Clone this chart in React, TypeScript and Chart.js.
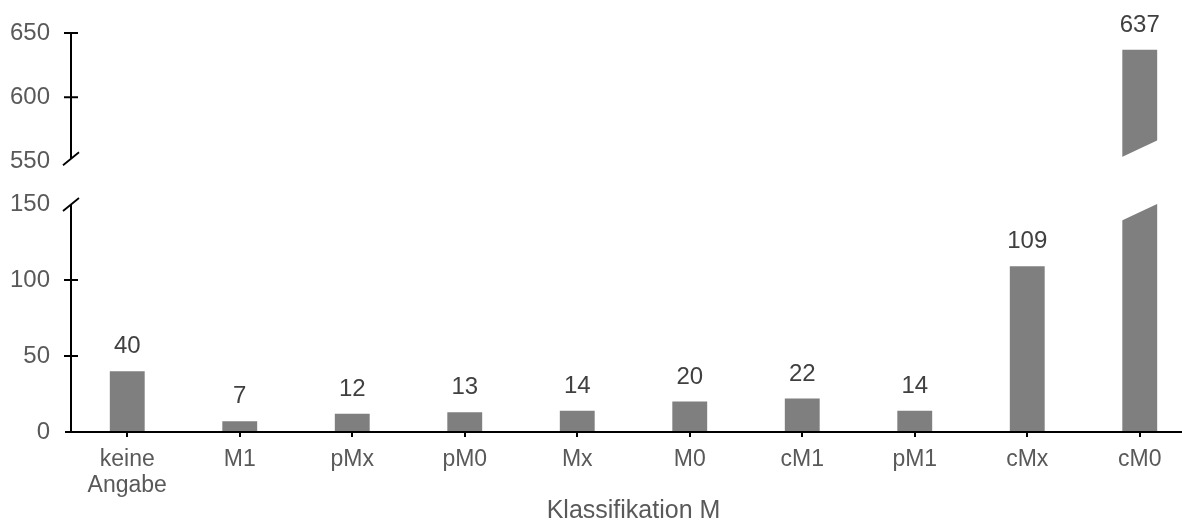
import React, { useEffect, useRef } from 'react';
import { Chart, registerables, LinearScale } from 'chart.js';

Chart.register(...registerables);

// ---- data ----
const categories: (string | string[])[] = [['keine', 'Angabe'], 'M1', 'pMx', 'pM0', 'Mx', 'M0', 'cM1', 'pM1', 'cMx', 'cM0'];
const counts: number[] = [40, 7, 12, 13, 14, 20, 22, 14, 109, 637];
const yTickValues: number[] = [0, 50, 100, 150, 550, 600, 650];
const lowerRange: number[] = [0, 150];
const upperRange: number[] = [550, 650];
const xTitle = 'Klassifikation M';

// ---- styling ----
const FONT = "'Liberation Sans', Arial, Helvetica, sans-serif";
const BAR_COLOR = '#7f7f7f';
const LABEL_COLOR = '#595959';
const VALUE_COLOR = '#404040';
// share of the axis height for the lower section, the gap and the upper section
const F_LOW = 228 / 399;
const F_GAP = 42.7 / 399;
const F_UP = 1 - F_LOW - F_GAP;

class BrokenLinearScale extends LinearScale {
  static id = 'brokenLinear';
  static defaults = {};

  buildTicks() {
    return yTickValues.map((v) => ({ value: v }));
  }

  valueToDecimal(v: number) {
    const [l0, l1] = lowerRange;
    const [u0, u1] = upperRange;
    if (v <= l1) return ((v - l0) / (l1 - l0)) * F_LOW;
    if (v >= u0) return F_LOW + F_GAP + ((v - u0) / (u1 - u0)) * F_UP;
    return F_LOW + ((v - l1) / (u0 - l1)) * F_GAP;
  }

  getPixelForValue(value: number) {
    return (this as any).getPixelForDecimal(this.valueToDecimal(value));
  }

  getValueForPixel(pixel: number) {
    const d = (this as any).getDecimalForPixel(pixel);
    const [l0, l1] = lowerRange;
    const [u0, u1] = upperRange;
    if (d <= F_LOW) return l0 + (d / F_LOW) * (l1 - l0);
    if (d >= F_LOW + F_GAP) return u0 + ((d - F_LOW - F_GAP) / F_UP) * (u1 - u0);
    return l1 + ((d - F_LOW) / F_GAP) * (u0 - l1);
  }
}
Chart.register(BrokenLinearScale as any);

const breakPlugin = {
  id: 'breakAxis',
  afterDatasetsDraw(chart: any) {
    const ctx = chart.ctx as CanvasRenderingContext2D;
    const y = chart.scales.y;
    const area = chart.chartArea;
    const ax = area.left;
    const y0 = y.getPixelForValue(0);
    const yLow = y.getPixelForValue(lowerRange[1]);
    const yHigh = y.getPixelForValue(upperRange[0]);
    const yTop = y.getPixelForValue(upperRange[1]);
    const meta = chart.getDatasetMeta(0);
    const slope = 15 / 32;

    ctx.save();
    // cut broken bars
    meta.data.forEach((bar: any, i: number) => {
      if (counts[i] <= lowerRange[1]) return;
      const { x: cx, width } = bar.getProps(['x', 'width'], true);
      const xLb = cx - width / 2;
      const xRb = cx + width / 2;
      const xl = xLb - 2;
      const xr = xRb + 2;
      const lowerY = (px: number) => yLow + (xRb - px) * slope;
      const upperY = (px: number) => yHigh - 4.5 - (px - xLb) * slope;
      ctx.fillStyle = '#ffffff';
      ctx.beginPath();
      ctx.moveTo(xl, lowerY(xl));
      ctx.lineTo(xr, lowerY(xr));
      ctx.lineTo(xr, upperY(xr));
      ctx.lineTo(xl, upperY(xl));
      ctx.closePath();
      ctx.fill();
    });

    // axes
    ctx.strokeStyle = '#000000';
    ctx.lineWidth = 2;
    ctx.lineCap = 'butt';
    ctx.beginPath();
    ctx.moveTo(ax - 6, y0);
    ctx.lineTo(area.right + 10, y0);
    ctx.moveTo(ax, y0);
    ctx.lineTo(ax, yLow);
    ctx.moveTo(ax, yTop);
    ctx.lineTo(ax, yHigh - 3);
    y.ticks.forEach((t: any) => {
      if (t.value === 0 || t.value === lowerRange[1] || t.value === upperRange[0]) return;
      const py = y.getPixelForValue(t.value);
      ctx.moveTo(ax - 7, py);
      ctx.lineTo(ax + 7, py);
    });
    ctx.stroke();
    ctx.lineWidth = 1.8;
    ctx.beginPath();
    [yLow, yHigh - 3].forEach((py) => {
      ctx.moveTo(ax - 8, py + 7);
      ctx.lineTo(ax + 8, py - 6);
    });
    ctx.stroke();

    // value labels
    ctx.font = `24px ${FONT}`;
    ctx.fillStyle = VALUE_COLOR;
    ctx.textAlign = 'center';
    ctx.textBaseline = 'alphabetic';
    meta.data.forEach((bar: any, i: number) => {
      const { x: bx, y: by } = bar.getProps(['x', 'y'], true);
      ctx.fillText(String(counts[i]), bx, by - 18);
    });
    ctx.restore();
  },
};

export default function App() {
  const ref = useRef<HTMLCanvasElement | null>(null);

  useEffect(() => {
    if (!ref.current) return;
    const chart = new Chart(ref.current, {
      type: 'bar',
      data: {
        labels: categories as any,
        datasets: [
          {
            data: counts,
            backgroundColor: BAR_COLOR,
            borderWidth: 0,
            barPercentage: 0.31,
            categoryPercentage: 1,
          },
        ],
      },
      options: {
        responsive: false,
        animation: false,
        devicePixelRatio: 1,
        layout: { padding: { top: 33, right: 0, bottom: 0, left: 0 } },
        plugins: { legend: { display: false }, tooltip: { enabled: false } },
        scales: {
          x: {
            type: 'category',
            offset: true,
            grid: {
              display: true,
              drawOnChartArea: false,
              drawTicks: true,
              tickLength: 5,
              offset: false,
              color: '#000000',
              lineWidth: 2,
            },
            border: { display: false },
            ticks: {
              font: { family: FONT, size: 23, lineHeight: 1.13 },
              color: LABEL_COLOR,
              padding: 10,
              autoSkip: false,
              maxRotation: 0,
            },
            title: {
              display: true,
              text: xTitle,
              font: { family: FONT, size: 25 },
              color: LABEL_COLOR,
              padding: { top: 0, bottom: 0 },
            },
            afterFit: (s: any) => {
              s.height = 94;
            },
          },
          y: {
            type: 'brokenLinear' as any,
            min: lowerRange[0],
            max: upperRange[1],
            grid: { display: false, drawTicks: false },
            border: { display: false },
            ticks: {
              font: { family: FONT, size: 24 },
              color: LABEL_COLOR,
              padding: 21,
              autoSkip: false,
              callback: (v: any) => String(v),
            },
            afterFit: (s: any) => {
              s.width = 71;
              s.paddingTop = 0;
              s.paddingBottom = 0;
            },
          },
        } as any,
      },
      plugins: [breakPlugin],
    });
    return () => chart.destroy();
  }, []);

  return (
    <div
      style={{
        position: 'fixed',
        left: 0,
        top: 0,
        width: 1182,
        height: 521,
        overflow: 'hidden',
        background: '#ffffff',
      }}
    >
      <canvas ref={ref} width={1196} height={526} style={{ display: 'block' }} />
    </div>
  );
}
